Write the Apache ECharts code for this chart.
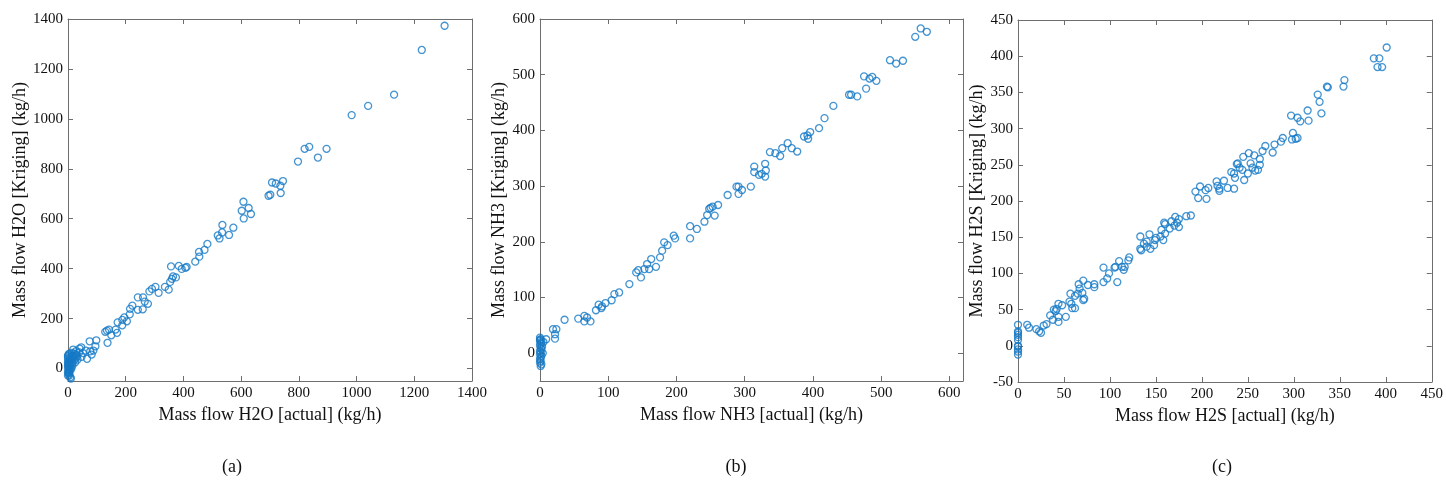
<!DOCTYPE html>
<html>
<head>
<meta charset="utf-8">
<script src="https://cdn.jsdelivr.net/npm/echarts@6/dist/echarts.min.js"></script>
<style>
  html, body { margin: 0; padding: 0; background: #fff; }
  #chart { width: 1446px; height: 486px; }
</style>
</head>
<body>
<div id="chart"></div>
<script>
// (a) H2O
const h2oActual = [1305, 1226, 1130, 1040, 983, 896, 866, 836, 820, 797, 745, 736, 737, 720, 707, 701, 695,
  608, 602, 626, 634, 609, 573, 558, 535, 534, 519, 525, 483, 473, 454, 455, 441, 411, 407, 394, 384, 357,
  364, 360, 374, 354, 349, 336, 314, 303, 291, 282, 277, 266, 260, 259, 242, 242, 223, 215, 214, 204, 195,
  188, 188, 172, 170, 165, 150, 142, 135, 129, 137, 98, 95, 75, 77, 82, 62, 46, 39, 30, 18, 15, 10, 6, 2,
  1, 3, 8, 0, 0, 0, 0, 25, 20, 13, 2, 33, 47, 66, 0, 0, 1, 2, 0, 1, 3, 2, 5, 4, 10, 6, 8, 10, 12, 14, 7, 5,
  9, 16, 18, 20, 22, 25, 28, 30, 11, 3, 15, 6, 52, 40, 88];
const h2oKriging = [1373, 1276, 1097, 1052, 1015, 880, 845, 888, 880, 829, 751, 732, 703, 741, 745, 696, 692,
  668, 632, 643, 619, 601, 564, 535, 575, 545, 533, 521, 499, 475, 467, 448, 428, 407, 403, 399, 411, 409,
  369, 359, 365, 347, 316, 327, 303, 327, 319, 309, 259, 268, 285, 237, 285, 235, 252, 239, 217, 189, 205,
  173, 195, 185, 143, 156, 133, 156, 152, 147, 103, 113, 89, 109, 69, 56, 72, 85, 65, 52, 76, 52, 36, 19, 9,
  -4, -17, -35, 49, 23, -17, -28, 25, 43, 63, 56, 36, 47, 39, 50, 40, 30, 20, 12, 5, -5, -12, -20, -28, -40,
  -8, 2, 15, 28, 40, 45, 60, 35, 22, 48, 60, 35, 55, 70, 45, -2, 8, 10, 30, 62, 80, 72];

// (b) NH3
const nh3Actual = [558, 567, 550, 513, 532, 522, 475, 487, 483, 493, 478, 453, 456, 465, 430, 417, 409, 396,
  387, 392, 393, 363, 355, 369, 377, 337, 345, 352, 330, 314, 314, 321, 325, 331, 330, 309, 288, 291, 296,
  291, 275, 261, 253, 248, 250, 245, 256, 241, 230, 220, 220, 196, 198, 182, 187, 179, 176, 163, 170, 157,
  160, 153, 144, 141, 148, 131, 116, 109, 105, 96, 86, 90, 82, 91, 65, 69, 65, 74, 56, 36, 24, 19, 22, 22,
  9, 4, 3, 5, 0, 1, 0, 2, 1, 0, 1, 2, 0, 1, 0, 2, 1, 0, 1, 0, 2, 1, 0];
const nh3Kriging = [583, 577, 568, 526, 525, 520, 497, 496, 493, 489, 475, 464, 464, 461, 444, 422, 404, 397,
  389, 391, 385, 377, 368, 368, 362, 361, 359, 354, 340, 335, 325, 320, 322, 328, 317, 299, 299, 299, 293,
  286, 284, 266, 263, 259, 261, 248, 247, 236, 223, 228, 206, 211, 206, 199, 194, 184, 172, 169, 155, 160,
  151, 151, 149, 145, 136, 124, 109, 106, 95, 90, 87, 81, 77, 84, 67, 64, 57, 57, 62, 60, 43, 43, 34, 26,
  25, 0, 12, 20, 28, 25, 22, 20, 17, 14, 10, 7, 4, 1, -2, -5, -8, -11, -14, -17, -20, -23, 24];

// (c) H2S
const h2sActual = [401, 387, 393, 391, 396, 355, 354, 336, 337, 326, 328, 330, 315, 316, 297, 304, 307, 299,
  298, 302, 304, 288, 286, 279, 277, 269, 266, 263, 263, 261, 258, 257, 251, 245, 253, 255, 250, 246, 239,
  238, 244, 241, 235, 232, 236, 235, 228, 224, 216, 217, 219, 219, 207, 204, 205, 198, 193, 196, 188, 183,
  175, 171, 173, 175, 170, 167, 165, 160, 159, 160, 156, 158, 155, 149, 150, 148, 144, 143, 140, 140, 137,
  133, 133, 134, 121, 120, 116, 115, 113, 110, 106, 105, 108, 99, 97, 93, 93, 83, 83, 76, 71, 70, 72, 71,
  66, 67, 65, 62, 62, 59, 57, 58, 56, 52, 48, 44, 42, 41, 39, 44, 44, 38, 35, 31, 28, 25, 23, 20, 12, 10,
  0, 0, 0, 0, 0, 0, 0, 0, 0, 0, 0];
const h2sKriging = [412, 397, 397, 385, 385, 367, 358, 358, 357, 347, 337, 321, 325, 311, 318, 315, 310, 294,
  285, 286, 287, 287, 282, 278, 267, 276, 269, 258, 250, 243, 242, 263, 266, 261, 252, 246, 238, 229, 252,
  251, 243, 246, 238, 240, 232, 217, 218, 228, 227, 221, 217, 214, 218, 215, 203, 220, 213, 204, 180, 179,
  175, 178, 170, 164, 166, 172, 162, 168, 170, 155, 160, 146, 151, 146, 149, 139, 134, 154, 144, 137, 141,
  151, 134, 132, 122, 118, 109, 105, 109, 117, 109, 108, 88, 100, 93, 88, 108, 85, 81, 84, 90, 73, 65, 63,
  85, 79, 72, 69, 52, 52, 72, 58, 61, 40, 56, 58, 51, 48, 50, 40, 33, 36, 42, 30, 28, 18, 20, 23, 25, 29,
  29, 20, 18, 15, 12, 8, 0, -1, -5, -8, -12];

const panelCaptions = ['(a)', '(b)', '(c)'];

const panels = [
  { actual: h2oActual, kriging: h2oKriging, gas: 'H2O',
    xMin: 0, xMax: 1400, xTicks: [0, 200, 400, 600, 800, 1000, 1200, 1400],
    yMin: -50, yMax: 1400, yTicks: [0, 200, 400, 600, 800, 1000, 1200, 1400],
    grid: { left: 68, top: 19, width: 404, height: 362 }, yGap: 35, captionX: 232 },
  { actual: nh3Actual, kriging: nh3Kriging, gas: 'NH3',
    xMin: 0, xMax: 620, xTicks: [0, 100, 200, 300, 400, 500, 600],
    yMin: -50, yMax: 600, yTicks: [0, 100, 200, 300, 400, 500, 600],
    grid: { left: 540, top: 19, width: 423, height: 362 }, yGap: 30, captionX: 736 },
  { actual: h2sActual, kriging: h2sKriging, gas: 'H2S',
    xMin: 0, xMax: 450, xTicks: [0, 50, 100, 150, 200, 250, 300, 350, 400, 450],
    yMin: -50, yMax: 450, yTicks: [-50, 0, 50, 100, 150, 200, 250, 300, 350, 400, 450],
    grid: { left: 1018, top: 20, width: 414, height: 362 }, yGap: 31, captionX: 1222 }
];

const FONT = '"Liberation Serif", "DejaVu Serif", serif';
const FRAME = '#6e6e6e';
const MARKER = '#1579c6';

function pairs(xs, ys) {
  return xs.map((x, i) => [x, ys[i]]);
}

function valueAxis(p, index, isX, secondary) {
  const ticks = isX ? p.xTicks : p.yTicks;
  const axis = {
    type: 'value',
    gridIndex: index,
    min: isX ? p.xMin : p.yMin,
    max: isX ? p.xMax : p.yMax,
    position: isX ? (secondary ? 'top' : 'bottom') : (secondary ? 'right' : 'left'),
    axisLine: { show: true, onZero: false, lineStyle: { color: FRAME, width: 1 } },
    axisTick: { show: true, inside: true, length: 5, customValues: ticks, lineStyle: { color: FRAME } },
    axisLabel: {
      show: !secondary,
      customValues: ticks,
      formatter: (v) => String(v),
      color: '#111',
      fontFamily: FONT,
      fontSize: 15,
      margin: 5
    },
    splitLine: { show: false }
  };
  if (!secondary) {
    axis.name = 'Mass flow ' + p.gas + (isX ? ' [actual] (kg/h)' : ' [Kriging] (kg/h)');
    axis.nameLocation = 'middle';
    axis.nameGap = isX ? 14 : p.yGap;
    axis.nameTextStyle = { color: '#111', fontFamily: FONT, fontSize: 18 };
  }
  return axis;
}

const chart = echarts.init(document.getElementById('chart'), null, { renderer: 'canvas' });

chart.setOption({
  animation: false,
  backgroundColor: '#fff',
  grid: panels.map((p) => Object.assign({ containLabel: false }, p.grid)),
  xAxis: panels.flatMap((p, i) => [valueAxis(p, i, true, false), valueAxis(p, i, true, true)]),
  yAxis: panels.flatMap((p, i) => [valueAxis(p, i, false, false), valueAxis(p, i, false, true)]),
  series: panels.map((p, i) => ({
    type: 'scatter',
    xAxisIndex: i * 2,
    yAxisIndex: i * 2,
    data: pairs(p.actual, p.kriging),
    symbol: 'circle',
    symbolSize: 7,
    itemStyle: { color: 'rgba(0,0,0,0)', borderColor: MARKER, borderWidth: 1.3 }
  })),
  graphic: panels.map((p, i) => ({
    type: 'text',
    x: p.captionX,
    y: 467,
    style: { text: panelCaptions[i], font: '18px ' + FONT, fill: '#111', textAlign: 'center', textVerticalAlign: 'middle' }
  }))
});
</script>
</body>
</html>
